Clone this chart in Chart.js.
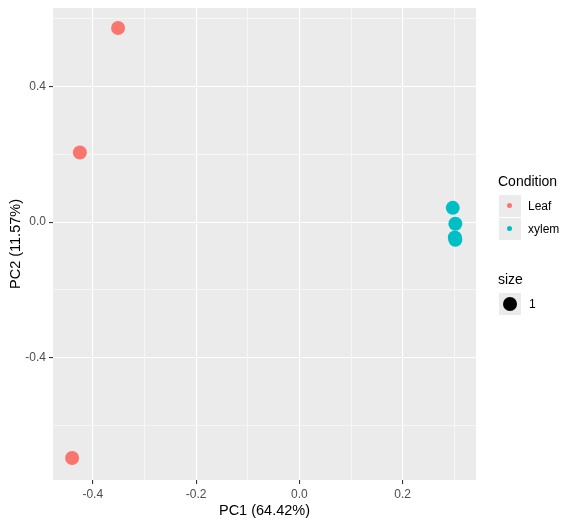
<!DOCTYPE html>
<html>
<head>
<meta charset="utf-8">
<script src="https://cdn.jsdelivr.net/npm/chart.js@4"></script>
<style>
  html, body { margin: 0; padding: 0; background: #fff; }
  #wrap { position: relative; width: 574px; height: 525px; font-family: "Liberation Sans", Arial, sans-serif; }
  #wrap canvas { position: absolute; left: 0; top: 0; }
  .lg-title { position: absolute; font-size: 14px; color: #000; line-height: 16px; }
  .lg-key { position: absolute; width: 22px; height: 22px; background: #ebebeb; }
  .lg-dot { position: absolute; border-radius: 50%; }
  .lg-text { position: absolute; font-size: 12px; color: #000; line-height: 14px; }
</style>
</head>
<body>
<div id="wrap">
  <canvas id="myChart" width="574" height="525"></canvas>
  <div class="lg-title" style="left:498px; top:173px;">Condition</div>
  <div class="lg-key" style="left:499px; top:195px;"><div class="lg-dot" style="left:8px; top:8px; width:5px; height:5px; background:#F8766D;"></div></div>
  <div class="lg-key" style="left:499px; top:218px;"><div class="lg-dot" style="left:8px; top:8px; width:5px; height:5px; background:#00BFC4;"></div></div>
  <div class="lg-text" style="left:528px; top:199px;">Leaf</div>
  <div class="lg-text" style="left:528px; top:222px;">xylem</div>
  <div class="lg-title" style="left:498px; top:271px;">size</div>
  <div class="lg-key" style="left:499px; top:293px;"><div class="lg-dot" style="left:4px; top:4px; width:14px; height:14px; background:#000;"></div></div>
  <div class="lg-text" style="left:529px; top:297px;">1</div>
</div>
<script>
// PCA scores
const leafPC1 = [-0.351, -0.425, -0.440];
const leafPC2 = [0.572, 0.205, -0.695];
const xylemPC1 = [0.297, 0.302, 0.301, 0.302];
const xylemPC2 = [0.042, -0.005, -0.045, -0.052];

// axis breaks (major get labels, minor only grid)
const xBreaks = [-0.4, -0.3, -0.2, -0.1, 0.0, 0.1, 0.2, 0.3];
const xLabels = ['-0.4', '', '-0.2', '', '0.0', '', '0.2', ''];
const yBreaks = [-0.6, -0.4, -0.2, 0.0, 0.2, 0.4, 0.6];
const yLabels = ['', '-0.4', '', '0.0', '', '0.4', ''];

const toPoints = (xs, ys) => xs.map((x, i) => ({ x: x, y: ys[i] }));

const panelBg = {
  id: 'panelBg',
  beforeDraw(chart) {
    const a = chart.chartArea, c = chart.ctx;
    c.save();
    c.fillStyle = '#EBEBEB';
    c.fillRect(a.left, a.top, a.right - a.left, a.bottom - a.top);
    c.restore();
  }
};

function setTicks(breaks) {
  return scale => { scale.ticks = breaks.map(v => ({ value: v })); };
}

// fixed axis sizes so the panel lands where ggplot put it
function fitX(s) {
  s.height = 45;
  s.paddingLeft = 0;
  s.paddingRight = 0;
}
function fitY(s) {
  s.width = 53;
  s.paddingTop = 0;
  s.paddingBottom = 0;
}

const ctx = document.getElementById('myChart');

new Chart(ctx, {
  type: 'scatter',
  data: {
    datasets: [
      {
        label: 'Leaf',
        data: toPoints(leafPC1, leafPC2),
        backgroundColor: '#F8766D',
        borderWidth: 0,
        pointRadius: 7,
        pointHoverRadius: 7
      },
      {
        label: 'xylem',
        data: toPoints(xylemPC1, xylemPC2),
        backgroundColor: '#00BFC4',
        borderWidth: 0,
        pointRadius: 7,
        pointHoverRadius: 7
      }
    ]
  },
  options: {
    responsive: false,
    animation: false,
    devicePixelRatio: 1,
    layout: { padding: { left: 0, right: 98, top: 8, bottom: 0 } },
    plugins: {
      legend: { display: false },
      tooltip: { enabled: false }
    },
    scales: {
      x: {
        type: 'linear',
        min: -0.477,
        max: 0.342,
        afterBuildTicks: setTicks(xBreaks),
        afterFit: fitX,
        border: { display: false },
        grid: {
          color: '#FFFFFF',
          lineWidth: c => (xLabels[c.index] ? 1.1 : 0.55),
          tickColor: c => (xLabels[c.index] ? '#333333' : 'rgba(0,0,0,0)'),
          tickLength: 4
        },
        ticks: {
          autoSkip: false,
          maxRotation: 0,
          padding: 3,
          color: '#4D4D4D',
          font: { family: 'Liberation Sans', size: 12 },
          callback: (v, i) => xLabels[i]
        },
        title: {
          display: true,
          text: 'PC1 (64.42%)',
          color: '#000',
          font: { family: 'Liberation Sans', size: 14.5 },
          padding: { top: 0, bottom: 5 }
        }
      },
      y: {
        type: 'linear',
        min: -0.760,
        max: 0.631,
        afterBuildTicks: setTicks(yBreaks),
        afterFit: fitY,
        border: { display: false },
        grid: {
          color: '#FFFFFF',
          lineWidth: c => (yLabels[c.index] ? 1.1 : 0.55),
          tickColor: c => (yLabels[c.index] ? '#333333' : 'rgba(0,0,0,0)'),
          tickLength: 4
        },
        ticks: {
          autoSkip: false,
          padding: 3,
          color: '#4D4D4D',
          font: { family: 'Liberation Sans', size: 12 },
          callback: (v, i) => yLabels[i]
        },
        title: {
          display: true,
          text: 'PC2 (11.57%)',
          color: '#000',
          font: { family: 'Liberation Sans', size: 14.5 },
          padding: { top: 7, bottom: 0 }
        }
      }
    }
  },
  plugins: [panelBg]
});
</script>
</body>
</html>
